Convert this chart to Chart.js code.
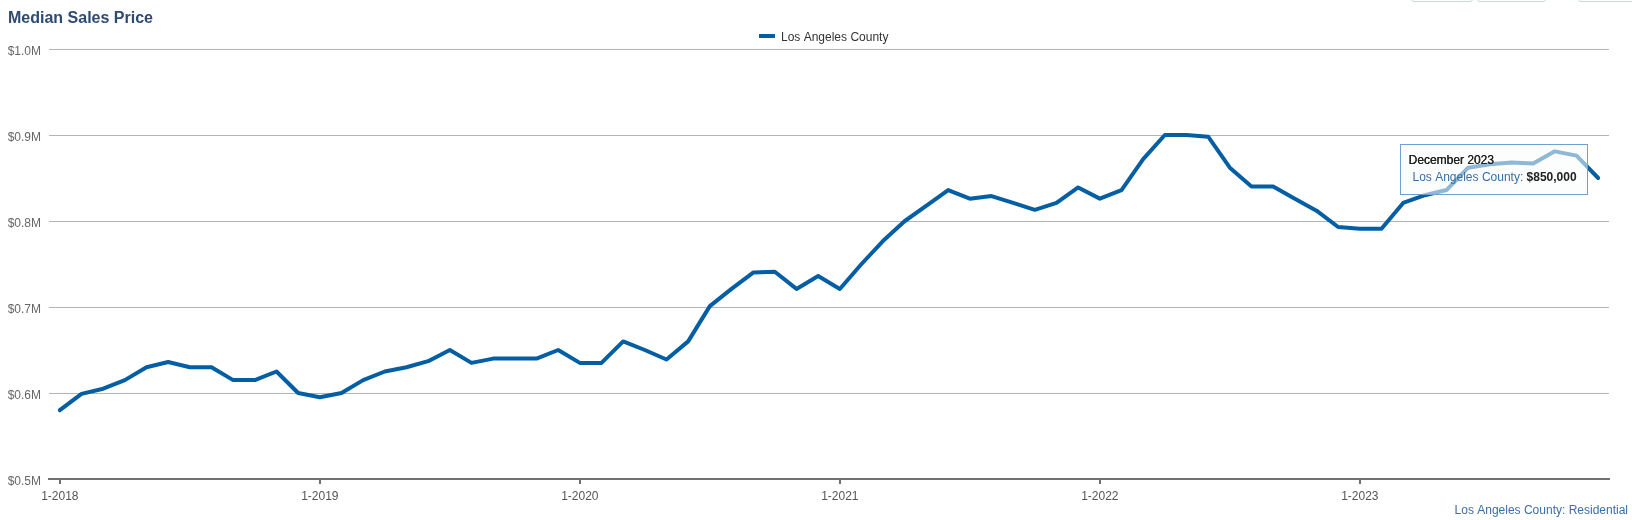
<!DOCTYPE html>
<html>
<head>
<meta charset="utf-8">
<script src="https://cdn.jsdelivr.net/npm/chart.js@4.4.1/dist/chart.umd.min.js"></script>
<style>
html,body{margin:0;padding:0;background:#fff;}
#wrap{position:relative;width:1632px;height:520px;overflow:hidden;}
#c{position:absolute;left:0;top:0;}
.btn{position:absolute;top:-30px;height:32px;box-sizing:border-box;border:1px solid #c9d8d8;border-radius:3px;background:#fff;}
</style>
</head>
<body>
<div id="wrap">
<canvas id="c" width="1632" height="520"></canvas>
<div class="btn" style="left:1411px;width:62px;"></div>
<div class="btn" style="left:1477px;width:69px;"></div>
<div class="btn" style="left:1578px;width:70px;"></div>
</div>
<script>
// ---- data ----
const chartTitle = 'Median Sales Price';
const seriesName = 'Los Angeles County';
const creditText = 'Los Angeles County: Residential';
const monthNames = ['January','February','March','April','May','June','July','August','September','October','November','December'];
const categories = [
 '1-2018','2-2018','3-2018','4-2018','5-2018','6-2018','7-2018','8-2018','9-2018','10-2018','11-2018','12-2018',
 '1-2019','2-2019','3-2019','4-2019','5-2019','6-2019','7-2019','8-2019','9-2019','10-2019','11-2019','12-2019',
 '1-2020','2-2020','3-2020','4-2020','5-2020','6-2020','7-2020','8-2020','9-2020','10-2020','11-2020','12-2020',
 '1-2021','2-2021','3-2021','4-2021','5-2021','6-2021','7-2021','8-2021','9-2021','10-2021','11-2021','12-2021',
 '1-2022','2-2022','3-2022','4-2022','5-2022','6-2022','7-2022','8-2022','9-2022','10-2022','11-2022','12-2022',
 '1-2023','2-2023','3-2023','4-2023','5-2023','6-2023','7-2023','8-2023','9-2023','10-2023','11-2023','12-2023'
];
const medianPrice = [
 580000,599000,605000,615000,630000,636000,630000,630000,615000,615000,625000,600000,
 595000,600000,615000,625000,630000,637000,650000,635000,640000,640000,640000,650000,
 635000,635000,660000,650000,639000,660000,701000,721000,740000,741000,721000,736000,
 721000,750000,777000,800000,818000,836000,826000,829000,821000,813000,821000,839000,
 826000,836000,872000,900000,900000,898000,862000,840000,840000,826000,812000,793000,
 791000,791000,821000,830000,836000,862000,866000,868000,867000,881000,876000,850000
];
const xTickLabels = ['1-2018','1-2019','1-2020','1-2021','1-2022','1-2023'];
const yTickValues = [500000,600000,700000,800000,900000,1000000];
const yTickLabels = ['$0.5M','$0.6M','$0.7M','$0.8M','$0.9M','$1.0M'];
const tooltipIndex = 71;

const FONT = '"Liberation Sans", Arial, sans-serif';
const LINE = '#045ea4';

function fmtMoney(v){ return '$' + v.toLocaleString('en-US'); }

const overlay = {
  id:'overlay',
  afterDraw(chart){
    const ctx = chart.ctx;
    ctx.save();
    // title
    ctx.font = 'bold 16px ' + FONT;
    ctx.fillStyle = '#2c4a72';
    ctx.textBaseline = 'alphabetic';
    ctx.textAlign = 'left';
    ctx.fillText(chartTitle, 8, 23);
    // legend
    ctx.font = '12px ' + FONT;
    const lx = 759;
    ctx.strokeStyle = LINE; ctx.lineWidth = 4; ctx.lineCap='butt';
    ctx.beginPath(); ctx.moveTo(lx, 36); ctx.lineTo(lx+16, 36); ctx.stroke();
    ctx.fillStyle = '#333';
    ctx.fillText(seriesName, lx+22, 40.5);
    // credits
    ctx.fillStyle = '#3d6ea8';
    ctx.textAlign = 'right';
    ctx.fillText(creditText, 1628, 514);
    // tooltip
    const pt = chart.getDatasetMeta(0).data[tooltipIndex];
    const w = 187, h = 50;
    const bx = Math.round(pt.x - 11 - w) + 0.5, by = Math.round(pt.y - 34) + 0.5;
    ctx.fillStyle = 'rgba(250,252,252,0.57)';
    ctx.fillRect(bx, by, w, h);
    ctx.strokeStyle = '#6fa0d0'; ctx.lineWidth = 1;
    ctx.strokeRect(bx, by, w, h);
    const parts = categories[tooltipIndex].split('-');
    const ttTitle = monthNames[parseInt(parts[0],10)-1] + ' ' + parts[1];
    ctx.textAlign = 'left';
    ctx.font = '12px ' + FONT;
    ctx.fillStyle = '#222';
    ctx.fillText(ttTitle, bx+8, by+19);
    ctx.fillText(ttTitle, bx+8.3, by+19);
    const lbl = seriesName + ': ';
    ctx.fillStyle = '#3a6ea5';
    ctx.fillText(lbl, bx+12, by+36);
    const lw = ctx.measureText(lbl).width;
    ctx.font = 'bold 12px ' + FONT;
    ctx.fillStyle = '#222';
    ctx.fillText(fmtMoney(medianPrice[tooltipIndex]), bx+12+lw, by+36);
    ctx.restore();
  }
};

new Chart(document.getElementById('c'), {
  type:'line',
  data:{
    labels: categories,
    datasets:[{
      label: seriesName,
      data: medianPrice,
      borderColor: LINE,
      backgroundColor: LINE,
      borderWidth: 4,
      pointRadius: 0,
      pointHoverRadius: 0,
      tension: 0,
      borderJoinStyle: 'round',
      borderCapStyle: 'round',
      fill: false
    }]
  },
  options:{
    responsive:false,
    animation:false,
    devicePixelRatio:1,
    events:[],
    layout:{ autoPadding:false, padding:{ top:49, right:23, bottom:0, left:0 } },
    plugins:{ legend:{display:false}, title:{display:false}, tooltip:{enabled:false} },
    scales:{
      x:{
        type:'category',
        offset:true,
        afterFit(s){ s.height = 41; },
        border:{ display:true, color:'#707070', width:2 },
        grid:{
          offset:false,
          drawOnChartArea:false,
          drawTicks:true,
          tickLength:5,
          lineWidth:2,
          color: ctx => (xTickLabels.indexOf(categories[ctx.index]) >= 0 ? '#707070' : 'rgba(0,0,0,0)')
        },
        ticks:{
          autoSkip:false,
          maxRotation:0,
          minRotation:0,
          padding:5,
          color:'#555',
          font:{ family:FONT, size:12 },
          callback:(v,i) => (xTickLabels.indexOf(categories[i]) >= 0 ? categories[i] : '')
        }
      },
      y:{
        type:'linear',
        min: yTickValues[0],
        max: yTickValues[yTickValues.length-1],
        afterFit(s){ s.width = 49; },
        afterBuildTicks(s){ s.ticks = yTickValues.map(v => ({value:v})); },
        border:{ display:false },
        grid:{
          drawTicks:false,
          lineWidth:1,
          color: ctx => (ctx.tick && ctx.tick.value === yTickValues[0] ? 'rgba(0,0,0,0)' : '#b4b4b4')
        },
        ticks:{
          padding:8,
          labelOffset:3,
          color:'#666',
          font:{ family:FONT, size:12 },
          callback:(v) => yTickLabels[yTickValues.indexOf(v)]
        }
      }
    }
  },
  plugins:[overlay]
});
</script>
</body>
</html>
